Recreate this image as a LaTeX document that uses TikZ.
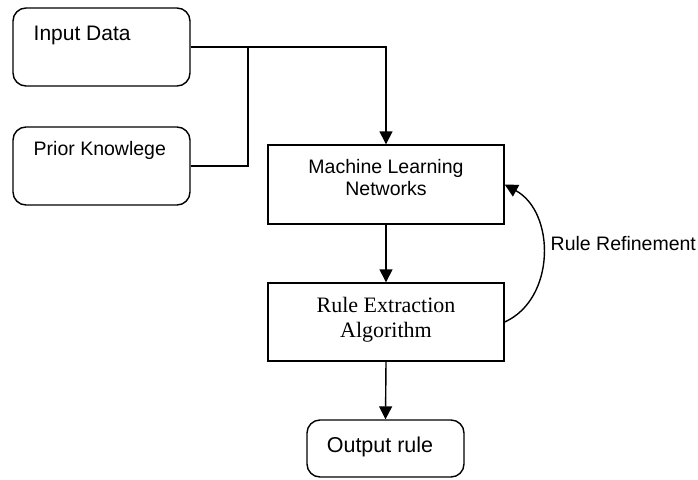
\documentclass[tikz,border=0pt]{standalone}
\usepackage{fontspec}
\setmainfont{Liberation Sans}
\newfontfamily\timesface{Liberation Serif}
\usetikzlibrary{arrows.meta}
\begin{document}
\begin{tikzpicture}[x=1pt,y=-1pt,
  line width=1.4pt,
  softbox/.style={draw,rounded corners=13pt,inner sep=0pt},
  plainbox/.style={draw,inner sep=0pt,minimum width=236pt},
  flow/.style={-{Triangle[length=13pt,width=13pt]}},
  txt/.style={inner sep=0pt,anchor=base west}]
\useasboundingbox (0,0) rectangle (698,479);

% source boxes
\node[softbox,minimum width=177pt,minimum height=78pt] (in) at (101.5,47) {};
\node[txt,font=\fontsize{21}{25}\selectfont] (intext) at (33,40) {Input Data};
\node[softbox,minimum width=177pt,minimum height=78pt] (pk) at (101.5,166) {};
\node[txt,font=\fontsize{19.5}{23}\selectfont] (pktext) at (33,155) {Prior Knowlege};

% processing boxes (text anchored on the baseline of its last line)
\node[plainbox,minimum height=79pt] (ml) at (386,184.5) {};
\node[inner sep=0pt,anchor=base,align=center,font=\fontsize{19.5}{22}\selectfont] (mltext) at (386,195)
  {Machine Learning\\Networks};
\node[plainbox,minimum height=78pt] (re) at (386,322) {};
\node[inner sep=0pt,anchor=base,align=center,font=\timesface\fontsize{22}{25}\selectfont] (retext) at (386,337)
  {Rule Extraction\\Algorithm};

% result
\node[softbox,minimum width=157pt,minimum height=57pt] (out) at (385.5,448.5) {};
\node[inner sep=0pt,anchor=base,font=\fontsize{21.5}{25}\selectfont] (outtext) at (380,452) {Output rule};

% connectors
\coordinate (join) at (248,47);
\draw[flow] (in.east) -| (ml.north);
\draw (pk.east) -| (join);
\draw[flow] (ml.south) -- (re.north);
\draw[flow] (re.south) -- (out.north);
\draw[flow] (re.east) .. controls +(51,-23) and +(51,28) .. (ml.east);
\node[txt,font=\fontsize{19.5}{23}\selectfont] (rftext) at (550,250) {Rule Refinement};
\end{tikzpicture}
\end{document}
